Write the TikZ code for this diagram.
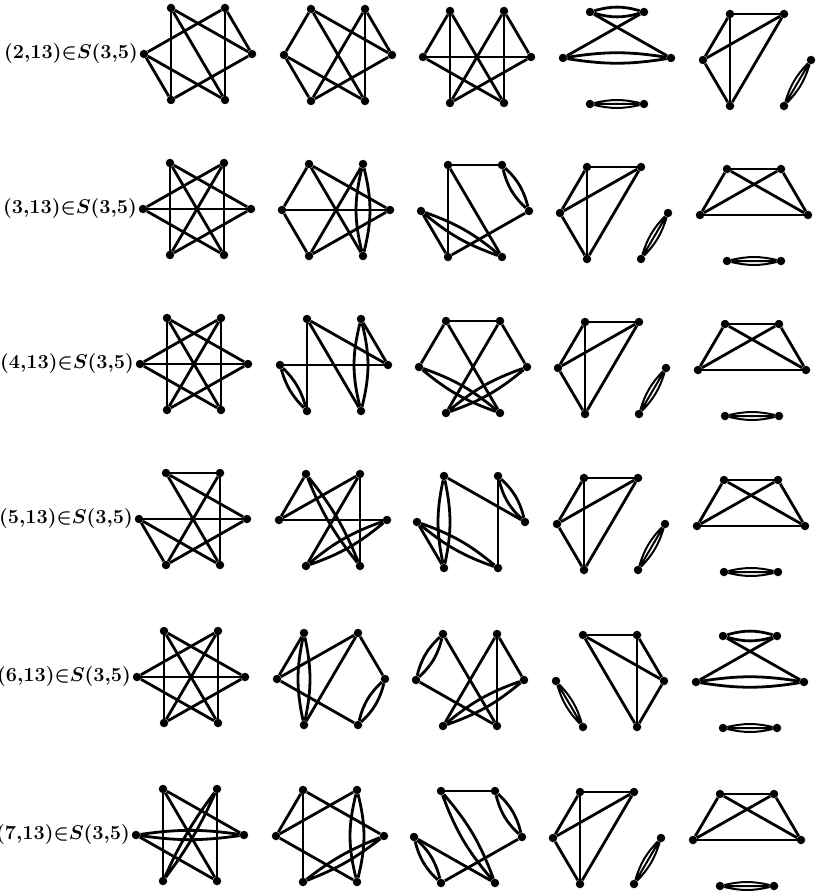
\documentclass[tikz,border=0pt]{standalone}
\usepackage{amsmath,amssymb}
\usepackage{tikz}
\usetikzlibrary{positioning}

\begin{document}
\begin{tikzpicture}[
    x=1pt, y=-1pt,
    vtx/.style={circle, fill, inner sep=0pt, minimum size=8.5pt},
    edge/.style={line width=2.8pt},
    multi/.style={line width=2pt},
    lbl/.style={inner sep=0pt, scale=0.96, font=\huge\boldmath}
]
\useasboundingbox (0,0) rectangle (818,896);

% six vertices per graph, on a hexagon round its centre
\foreach \g/\cx/\cy in {11/198/54, 12/338/55, 13/477/57, 14/617/58, 15/757/60,
                        21/197/209, 22/336/210, 23/475/211, 24/614/213, 25/754/215,
                        31/194/364, 32/334/365, 33/473/367, 34/612/368, 35/752/370,
                        41/193/519, 42/333/520, 43/471/522, 44/611/524, 45/751/526,
                        51/191/677, 52/331/679, 53/470/680, 54/610/681, 55/750/682,
                        61/190/835, 62/330/836, 63/468/837, 64/607/838, 65/747/840} {
  \node[vtx] (g\g-l)  at (\cx-54,\cy) {};
  \node[vtx] (g\g-tl) at (\cx-27,\cy-46) {};
  \node[vtx] (g\g-tr) at (\cx+27,\cy-46) {};
  \node[vtx] (g\g-r)  at (\cx+54,\cy) {};
  \node[vtx] (g\g-br) at (\cx+27,\cy+46) {};
  \node[vtx] (g\g-bl) at (\cx-27,\cy+46) {};
}

% row labels
\foreach \r/\n in {1/2, 2/3, 3/4, 4/5, 5/6, 6/7}
  \node[lbl, left=1.5pt of g\r1-l] (lab\r) {$(\n{,}13){\in}S(3{,}5)$};

% row 1
\foreach \a/\b in {tl/bl, tl/r, tl/br, tr/l, tr/br, tr/r, l/br, l/bl, r/bl}
  \draw[edge] (g11-\a) -- (g11-\b);
\foreach \a/\b in {tl/l, tl/r, tl/br, tr/br, tr/bl, tr/r, l/bl, l/br, r/bl}
  \draw[edge] (g12-\a) -- (g12-\b);
\foreach \a/\b in {l/r, tl/bl, tr/br, tl/l, tl/br, tr/r, tr/bl, bl/r, br/l}
  \draw[edge] (g13-\a) -- (g13-\b);
\foreach \a/\b in {tl/r, tr/l}
  \draw[edge] (g14-\a) -- (g14-\b);
\draw[edge] (g14-tl) to[bend left=16] (g14-tr) (g14-tl) to[bend right=16] (g14-tr);
\draw[edge] (g14-l) to[bend left=9] (g14-r) (g14-l) to[bend right=9] (g14-r);
\draw[multi] (g14-bl) to[bend left=13] (g14-br) (g14-bl) -- (g14-br) (g14-bl) to[bend right=13] (g14-br);
\foreach \a/\b in {tl/tr, tl/l, tl/bl, tr/l, tr/bl, l/bl}
  \draw[edge] (g15-\a) -- (g15-\b);
\draw[multi] (g15-r) to[bend left=13] (g15-br) (g15-r) -- (g15-br) (g15-r) to[bend right=13] (g15-br);

% row 2
\foreach \a/\b in {l/r, tl/bl, tr/br, tl/r, tl/br, tr/l, tr/bl, l/br, r/bl}
  \draw[edge] (g21-\a) -- (g21-\b);
\foreach \a/\b in {l/tl, l/bl, l/r, tl/r, tl/br, tr/bl, bl/r}
  \draw[edge] (g22-\a) -- (g22-\b);
\draw[edge] (g22-tr) to[bend left=14] (g22-br) (g22-tr) to[bend right=14] (g22-br);
\foreach \a/\b in {tl/tr, tl/bl, tl/br, l/bl, r/bl}
  \draw[edge] (g23-\a) -- (g23-\b);
\draw[edge] (g23-tr) to[bend left=16] (g23-r) (g23-tr) to[bend right=16] (g23-r);
\draw[edge] (g23-l) to[bend left=10] (g23-br) (g23-l) to[bend right=10] (g23-br);
\foreach \a/\b in {tl/tr, tl/l, tl/bl, tr/l, tr/bl, l/bl}
  \draw[edge] (g24-\a) -- (g24-\b);
\draw[multi] (g24-r) to[bend left=13] (g24-br) (g24-r) -- (g24-br) (g24-r) to[bend right=13] (g24-br);
\foreach \a/\b in {tl/tr, l/r, tl/l, tr/r, tl/r, tr/l}
  \draw[edge] (g25-\a) -- (g25-\b);
\draw[multi] (g25-bl) to[bend left=13] (g25-br) (g25-bl) -- (g25-br) (g25-bl) to[bend right=13] (g25-br);

% row 3
\foreach \a/\b in {l/r, tl/bl, tr/br, tl/r, tl/br, tr/l, tr/bl, l/br, r/bl}
  \draw[edge] (g31-\a) -- (g31-\b);
\foreach \a/\b in {l/r, tl/bl, tl/r, tl/br, tr/r}
  \draw[edge] (g32-\a) -- (g32-\b);
\draw[edge] (g32-l) to[bend left=14] (g32-bl) (g32-l) to[bend right=14] (g32-bl);
\draw[edge] (g32-tr) to[bend left=14] (g32-br) (g32-tr) to[bend right=14] (g32-br);
\foreach \a/\b in {tl/tr, tl/l, tr/r, tl/br, tr/bl}
  \draw[edge] (g33-\a) -- (g33-\b);
\draw[edge] (g33-l) to[bend left=10] (g33-br) (g33-l) to[bend right=10] (g33-br);
\draw[edge] (g33-r) to[bend left=10] (g33-bl) (g33-r) to[bend right=10] (g33-bl);
\foreach \a/\b in {tl/tr, tl/l, tl/bl, tr/l, tr/bl, l/bl}
  \draw[edge] (g34-\a) -- (g34-\b);
\draw[multi] (g34-r) to[bend left=13] (g34-br) (g34-r) -- (g34-br) (g34-r) to[bend right=13] (g34-br);
\foreach \a/\b in {tl/tr, l/r, tl/l, tr/r, tl/r, tr/l}
  \draw[edge] (g35-\a) -- (g35-\b);
\draw[multi] (g35-bl) to[bend left=13] (g35-br) (g35-bl) -- (g35-br) (g35-bl) to[bend right=13] (g35-br);

% row 4
\foreach \a/\b in {tl/tr, tr/br, l/r, tl/r, tl/br, tr/bl, l/bl, l/br, r/bl}
  \draw[edge] (g41-\a) -- (g41-\b);
\foreach \a/\b in {tl/l, tr/l, tr/br, tr/bl, l/r}
  \draw[edge] (g42-\a) -- (g42-\b);
\draw[edge] (g42-tl) to[bend left=8] (g42-br) (g42-tl) to[bend right=8] (g42-br);
\draw[edge] (g42-r) to[bend left=10] (g42-bl) (g42-r) to[bend right=10] (g42-bl);
\foreach \a/\b in {tl/r, tr/br, l/bl}
  \draw[edge] (g43-\a) -- (g43-\b);
\draw[edge] (g43-tl) to[bend left=12] (g43-bl) (g43-tl) to[bend right=12] (g43-bl);
\draw[edge] (g43-tr) to[bend left=16] (g43-r) (g43-tr) to[bend right=16] (g43-r);
\draw[edge] (g43-l) to[bend left=10] (g43-br) (g43-l) to[bend right=10] (g43-br);
\foreach \a/\b in {tl/tr, tl/l, tl/bl, tr/l, tr/bl, l/bl}
  \draw[edge] (g44-\a) -- (g44-\b);
\draw[multi] (g44-r) to[bend left=13] (g44-br) (g44-r) -- (g44-br) (g44-r) to[bend right=13] (g44-br);
\foreach \a/\b in {tl/tr, l/r, tl/l, tr/r, tl/r, tr/l}
  \draw[edge] (g45-\a) -- (g45-\b);
\draw[multi] (g45-bl) to[bend left=13] (g45-br) (g45-bl) -- (g45-br) (g45-bl) to[bend right=13] (g45-br);

% row 5
\foreach \a/\b in {l/r, tl/bl, tr/br, tl/r, tl/br, tr/l, tr/bl, l/br, r/bl}
  \draw[edge] (g51-\a) -- (g51-\b);
\foreach \a/\b in {tl/l, l/tr, l/br, tr/r, tr/bl}
  \draw[edge] (g52-\a) -- (g52-\b);
\draw[edge] (g52-tl) to[bend left=12] (g52-bl) (g52-tl) to[bend right=12] (g52-bl);
\draw[edge] (g52-r) to[bend left=16] (g52-br) (g52-r) to[bend right=16] (g52-br);
\foreach \a/\b in {tl/br, tr/bl, tr/br, tr/r, l/br}
  \draw[edge] (g53-\a) -- (g53-\b);
\draw[edge] (g53-tl) to[bend left=16] (g53-l) (g53-tl) to[bend right=16] (g53-l);
\draw[edge] (g53-r) to[bend left=10] (g53-bl) (g53-r) to[bend right=10] (g53-bl);
\foreach \a/\b in {tl/tr, tl/r, tl/br, tr/br, tr/r, r/br}
  \draw[edge] (g54-\a) -- (g54-\b);
\draw[multi] (g54-l) to[bend left=13] (g54-bl) (g54-l) -- (g54-bl) (g54-l) to[bend right=13] (g54-bl);
\foreach \a/\b in {tl/r, tr/l}
  \draw[edge] (g55-\a) -- (g55-\b);
\draw[edge] (g55-tl) to[bend left=16] (g55-tr) (g55-tl) to[bend right=16] (g55-tr);
\draw[edge] (g55-l) to[bend left=9] (g55-r) (g55-l) to[bend right=9] (g55-r);
\draw[multi] (g55-bl) to[bend left=13] (g55-br) (g55-bl) -- (g55-br) (g55-bl) to[bend right=13] (g55-br);

% row 6
\foreach \a/\b in {tl/bl, tl/r, tl/br, tr/br, l/br}
  \draw[edge] (g61-\a) -- (g61-\b);
\draw[edge] (g61-l) to[bend left=8] (g61-r) (g61-l) to[bend right=8] (g61-r);
\draw[edge] (g61-tr) to[bend left=6] (g61-bl) (g61-tr) to[bend right=6] (g61-bl);
\foreach \a/\b in {tl/l, tl/bl, tl/r, tr/l, l/br}
  \draw[edge] (g62-\a) -- (g62-\b);
\draw[edge] (g62-tr) to[bend left=14] (g62-br) (g62-tr) to[bend right=14] (g62-br);
\draw[edge] (g62-r) to[bend left=8] (g62-bl) (g62-r) to[bend right=8] (g62-bl);
\foreach \a/\b in {tl/tr, r/bl, l/br}
  \draw[edge] (g63-\a) -- (g63-\b);
\draw[edge] (g63-tl) to[bend left=10] (g63-br) (g63-tl) to[bend right=10] (g63-br);
\draw[edge] (g63-tr) to[bend left=16] (g63-r) (g63-tr) to[bend right=16] (g63-r);
\draw[edge] (g63-l) to[bend left=16] (g63-bl) (g63-l) to[bend right=16] (g63-bl);
\foreach \a/\b in {tl/tr, tl/l, tl/bl, tr/l, tr/bl, l/bl}
  \draw[edge] (g64-\a) -- (g64-\b);
\draw[multi] (g64-r) to[bend left=13] (g64-br) (g64-r) -- (g64-br) (g64-r) to[bend right=13] (g64-br);
\foreach \a/\b in {tl/tr, l/r, tl/l, tr/r, tl/r, tr/l}
  \draw[edge] (g65-\a) -- (g65-\b);
\draw[multi] (g65-bl) to[bend left=13] (g65-br) (g65-bl) -- (g65-br) (g65-bl) to[bend right=13] (g65-br);

\end{tikzpicture}
\end{document}
